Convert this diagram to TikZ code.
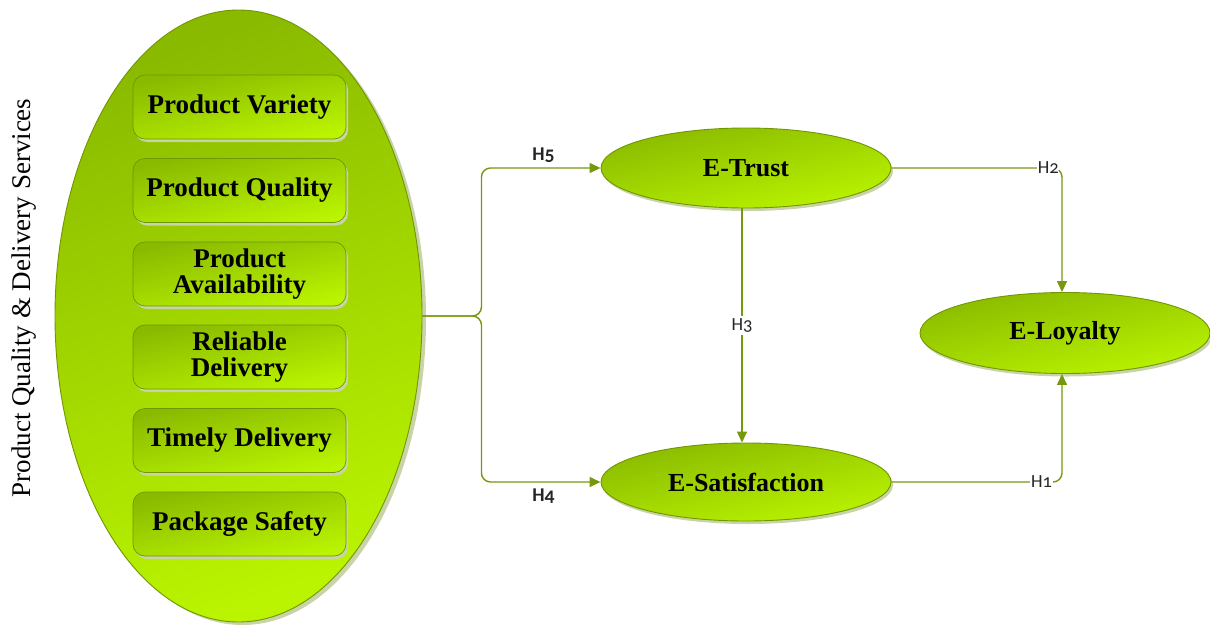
\documentclass[tikz,border=0pt]{standalone}
\usepackage{fontspec}
\setmainfont{Liberation Serif}
\newfontfamily\hfont[Numbers=OldStyle]{Carlito}
\usetikzlibrary{shapes.geometric,arrows.meta,shadows,calc}
\definecolor{gdark}{RGB}{138,186,0}
\definecolor{glight}{RGB}{186,244,0}
\definecolor{gline}{RGB}{118,152,12}
\definecolor{gborder}{RGB}{112,150,0}
\definecolor{gshadow}{RGB}{200,212,168}
\begin{document}
\begin{tikzpicture}[x=1pt,y=-1pt,
  gshade/.style={top color=gdark, bottom color=glight, shading angle=12},
  oval/.style={ellipse, draw=gborder, line width=0.9pt, gshade,
    general shadow={fill=gshadow, shadow xshift=2pt, shadow yshift=-3pt},
    minimum width=290pt, minimum height=80pt, inner sep=0pt,
    font=\bfseries\fontsize{26}{28}\selectfont},
  item/.style={rectangle, rounded corners=12pt, draw=gborder, line width=0.7pt, gshade,
    general shadow={fill=gshadow, shadow xshift=2pt, shadow yshift=-3pt},
    minimum width=213pt, minimum height=64pt, inner sep=0pt, align=center,
    font=\bfseries\fontsize{27}{26}\selectfont},
  conn/.style={draw=gline, line width=1.4pt},
  arr/.style={conn, -{Triangle[length=11pt,width=10pt]}},
  hlab/.style={font=\hfont\fontsize{18.5}{18}\selectfont, text=black!85, inner sep=1pt},
  hbold/.style={font=\hfont\bfseries\fontsize{19.5}{19}\selectfont},
]
\useasboundingbox (0,0) rectangle (1210,624);

% big ellipse
\node[ellipse, draw=gborder, line width=0.9pt, top color=gdark, bottom color=glight, shading angle=20,
  general shadow={fill=gshadow, shadow xshift=4pt, shadow yshift=-3pt},
  minimum width=367pt, minimum height=612pt, inner sep=0pt] (big) at (238.5,316) {};

\node[item] (b1) at (239.5,107) {Product Variety};
\node[item] (b2) at (239.5,190.5) {Product Quality};
\node[item] (b3) at (239.5,274) {Product\\Availability};
\node[item] (b4) at (239.5,357) {Reliable\\Delivery};
\node[item] (b5) at (239.5,440.5) {Timely Delivery};
\node[item] (b6) at (239.5,524) {Package Safety};

\node[rotate=90, font=\fontsize{27}{29}\selectfont] (side) at (24,298) {Product Quality \& Delivery Services};

% outcome ellipses
\node[oval] (trust) at (746,168) {E-Trust};
\node[oval, minimum height=78pt] (sat) at (746,482) {E-Satisfaction};
\node[oval, minimum height=81pt] (loy) at (1065,333) {E-Loyalty};

% connectors
\draw[arr, rounded corners=9pt] (big.east) -- ++(59,0) |- (trust.west)
  node[hlab, hbold, pos=0.76, above=4pt] {H5};
\draw[arr, rounded corners=9pt] (big.east) -- ++(59,0) |- (sat.west)
  node[hlab, hbold, pos=0.76, below=5pt] {H4};
\draw[arr] ([xshift=-4pt]trust.south) -- ([xshift=-4pt]sat.north)
  node[hlab, pos=0.5, fill=white, inner sep=3pt] {H3};
\draw[arr, rounded corners=9pt] (trust.east) -| ([xshift=-3pt]loy.north)
  node[hlab, pos=0.46, fill=white] {H2};
\draw[arr, rounded corners=9pt] (sat.east) -| ([xshift=-3pt]loy.south)
  node[hlab, pos=0.44, fill=white] {H1};
\end{tikzpicture}
\end{document}
